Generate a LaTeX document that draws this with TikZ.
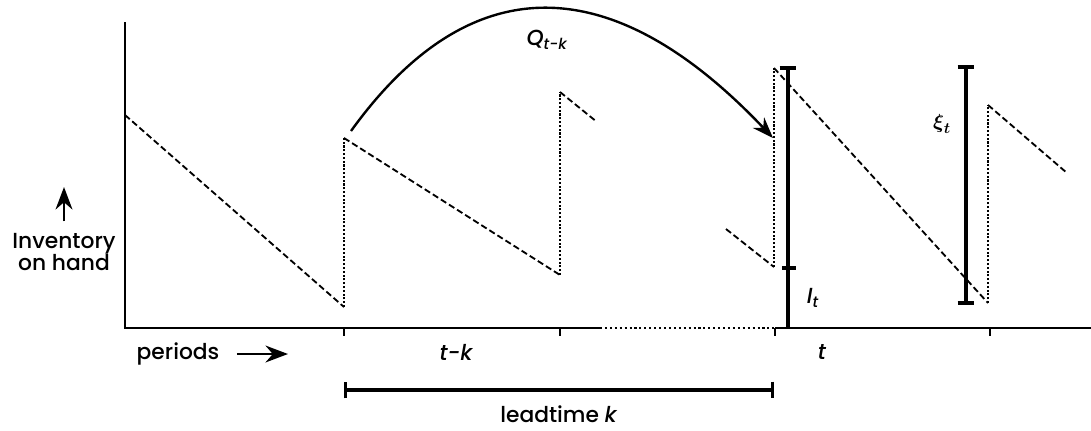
\documentclass[tikz,border=0pt]{standalone}
\usepackage{fontspec}
\usepackage{amsmath}
\setmainfont{Poppins}[UprightFont=* Medium, ItalicFont=* Medium Italic]
\usetikzlibrary{arrows.meta}
\tikzset{
  stock/.style={dash pattern=on 4.5pt off 2.3pt, line width=1.3pt},
  refill/.style={dash pattern=on 1.5pt off 1.2pt, line width=1.1pt},
  axis/.style={line width=1.5pt},
  bar/.style={line width=2.4pt},
  lbl/.style={font=\fontsize{15.5}{13}\selectfont},
  ilbl/.style={font=\fontsize{15.5}{13}\selectfont\itshape},
  pointer/.style={line width=1.8pt,-{Stealth[length=16pt,width=12pt]}},
}
\begin{document}
\begin{tikzpicture}[x=0.025cm,y=-0.025cm]
  \useasboundingbox (0,0) rectangle (1091,430);
  %% AXES
  \draw[axis] (125,22) -- (125,328) -- (600,328);
  \draw[axis,dotted] (600,328) -- (775,328);
  \draw[axis] (775,328) -- (1091,328);
  % period ticks
  \foreach \x in {344,560,775,990}
    \draw[line width=0.9pt] (\x,328) -- (\x,336);

  %% INVENTORY PATH
  \draw[stock] (125,115) -- (344,307);
  \draw[refill] (344,307) -- (344,138);
  \draw[stock] (344,138) -- (560,275);
  \draw[refill] (560,275) -- (560,92);
  \draw[stock] (560,92) -- (597,122);
  % period t
  \draw[stock] (726,229) -- (774,267);
  \draw[refill] (774,267) -- (774,68);
  \draw[stock] (774,68) -- (988,303);
  \draw[refill] (988,303) -- (988,105);
  \draw[stock] (988,105) -- (1067,173);

  %% ORDER Q_{t-k}
  \coordinate (qfrom) at (351,131);
  \coordinate (qto)   at (773,138);
  \draw[line width=1.7pt,-{Stealth[length=15pt,width=11pt]}]
    (qfrom) .. controls (470,-34) and (612,-32) .. (qto);
  \node[ilbl] (q) at (547,40) {Q\textsubscript{t-k}};

  %% I_t
  \coordinate (itop) at (788,68);
  \coordinate (imid) at (788,268);
  \coordinate (ibot) at (788,328);
  \draw[bar] (itop) -- (ibot);
  \draw[bar] ([xshift=-6pt]itop) -- ([xshift=6pt]itop);
  \draw[bar] ([xshift=-4pt]imid) -- ([xshift=6pt]imid);
  \node[ilbl] (it) at (813,298) {I\textsubscript{t}};

  %% xi_t
  \coordinate (xtop) at (966,67);
  \coordinate (xbot) at (966,303);
  \draw[bar] (xtop) -- (xbot);
  \draw[bar] ([xshift=-6pt]xtop) -- ([xshift=6pt]xtop);
  \draw[bar] ([xshift=-6pt]xbot) -- ([xshift=6pt]xbot);
  \node[lbl] (xi) at (942,124) {$\boldsymbol{\xi}_{\boldsymbol{t}}$};

  %% LABELS
  \node[ilbl] (tk) at (456,352) {t-k};
  \node[ilbl] (t) at (822,352) {t};
  \node[lbl] (per) at (178,354) {periods};
  \coordinate (perend) at (288,354);
  \draw[pointer] (per.east) ++(9pt,0) -- (perend);
  \node[lbl,align=center] (inv) at (64,252) {Inventory\\[-1pt]on hand};
  \coordinate (invtop) at (64,187);
  \draw[pointer] ([yshift=5pt]inv.north) -- (invtop);

  %% LEADTIME
  \coordinate (lfrom) at (344,390);
  \coordinate (lto) at (774,390);
  \draw[bar,{|[width=12pt]}-{|[width=12pt]}] (lfrom) -- (lto);
  \node[lbl] (lead) at (559,414) {leadtime \textit{k}};
\end{tikzpicture}
\end{document}
